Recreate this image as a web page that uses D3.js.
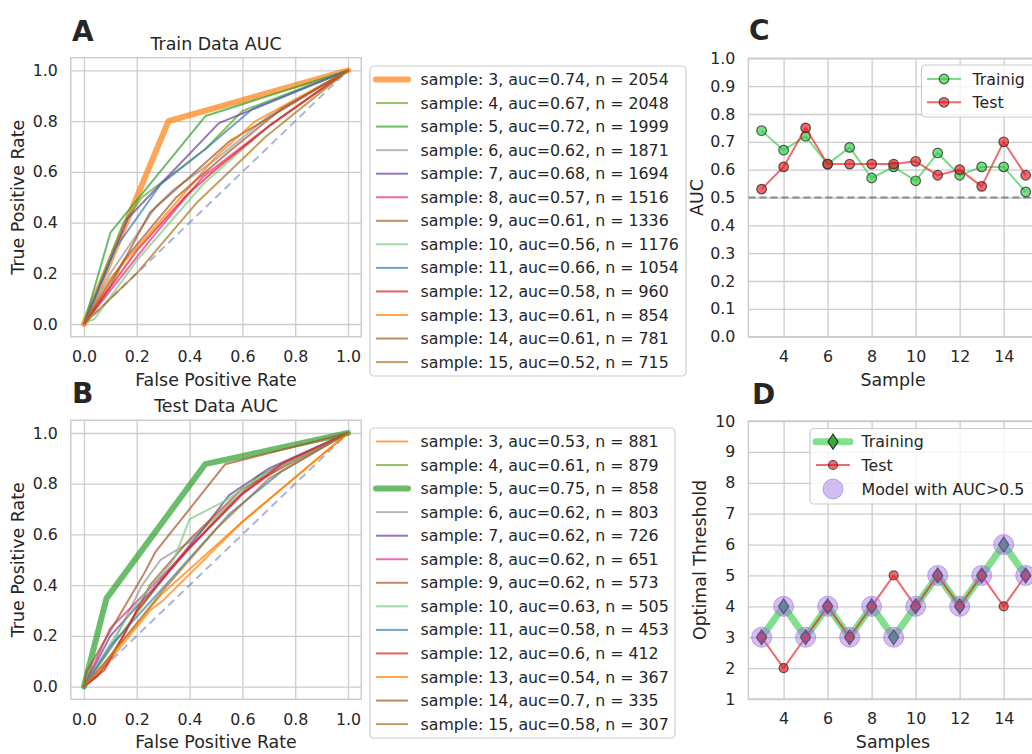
<!DOCTYPE html>
<html><head><meta charset="utf-8">
<script src="https://cdn.jsdelivr.net/npm/d3@7"></script>
<style>
body{margin:0;background:#fff}
text{font-family:"DejaVu Sans",sans-serif;fill:#262626}
</style>
</head><body>
<svg id="chart" width="1032" height="754"></svg>
<script>
// ---------------- DATA ----------------
const samples = [3,4,5,6,7,8,9,10,11,12,13,14,15];
const trainAUC = [0.74,0.67,0.72,0.62,0.68,0.57,0.61,0.56,0.66,0.58,0.61,0.61,0.52];
const trainN = [2054,2048,1999,1871,1694,1516,1336,1176,1054,960,854,781,715];
const testAUC = [0.53,0.61,0.75,0.62,0.62,0.62,0.62,0.63,0.58,0.6,0.54,0.7,0.58];
const testN = [881,879,858,803,726,651,573,505,453,412,367,335,307];
const sampleColors = ["#ff7f0e","#66a61e","#2ca02c","#999999","#6a3d9a","#e7298a","#a65628","#7fc97f","#377eb8","#e41a1c","#ff7f00","#a65628","#a6761d"];

// ROC curves (FPR, TPR) per sample, training set
const trainFPR = [
 [0,0.32,1],
 [0,0.15,0.22,0.46,0.6,1],
 [0,0.1,0.46,1],
 [0,0.1,0.27,0.34,0.5,0.7,1],
 [0,0.166,0.511,1],
 [0,0.25,0.45,0.7,1],
 [0,0.1,0.25,0.4,0.55,1],
 [0,0.04,0.2,0.45,0.7,1],
 [0,0.12,0.29,0.46,0.64,1],
 [0,0.2,0.39,0.5,0.7,1],
 [0,0.1,0.3,0.5,0.65,1],
 [0,0.15,0.35,0.55,0.75,1],
 [0,0.2,0.425,0.689,1]
];
const trainTPR = [
 [0,0.8,1],
 [0,0.4,0.5,0.69,0.84,1],
 [0,0.36,0.82,1],
 [0,0.2,0.46,0.53,0.65,0.82,1],
 [0,0.417,0.792,1],
 [0,0.33,0.58,0.78,1],
 [0,0.15,0.44,0.58,0.72,1],
 [0,0.02,0.25,0.55,0.78,1],
 [0,0.3,0.55,0.69,0.85,1],
 [0,0.29,0.51,0.61,0.78,1],
 [0,0.18,0.42,0.66,0.8,1],
 [0,0.25,0.5,0.68,0.85,1],
 [0,0.2,0.476,0.739,1]
];
// ROC curves, test set
const testFPR = [
 [0,0.08,0.25,0.3,0.6,1],
 [0,0.1,0.3,0.5,0.66,1],
 [0,0.0855,0.459,1],
 [0,0.1,0.22,0.29,0.4,0.55,0.7,1],
 [0,0.1,0.3,0.45,0.55,0.7,1],
 [0,0.1,0.3,0.45,0.6,0.75,1],
 [0,0.05,0.15,0.25,0.4,0.6,1],
 [0,0.1,0.2,0.34,0.4,0.54,0.67,1],
 [0,0.1,0.3,0.55,0.75,1],
 [0,0.078,0.2,0.4,0.6,0.75,1],
 [0,0.1,0.29,0.6,1],
 [0,0.01,0.1,0.23,0.27,0.535,1],
 [0,0.1,0.3,0.5,0.7,1]
];
const testTPR = [
 [0,0.08,0.3,0.34,0.65,1],
 [0,0.15,0.43,0.66,0.83,1],
 [0,0.348,0.877,1],
 [0,0.15,0.4,0.5,0.57,0.72,0.85,1],
 [0,0.2,0.43,0.62,0.755,0.86,1],
 [0,0.23,0.44,0.6,0.76,0.87,1],
 [0,0.04,0.2,0.4,0.58,0.78,1],
 [0,0.17,0.33,0.5,0.66,0.735,0.83,1],
 [0,0.16,0.39,0.68,0.85,1],
 [0,0.066,0.3,0.55,0.76,0.88,1],
 [0,0.12,0.36,0.65,1],
 [0,0.06,0.22,0.45,0.53,0.877,1],
 [0,0.12,0.38,0.62,0.82,1]
];
const trainThreshold = [3,4,3,4,3,4,3,4,5,4,5,6,5];
const testThreshold = [3,2,3,4,3,4,5,4,5,4,5,4,5];
const rocTicks = [0,0.2,0.4,0.6,0.8,1.0];
const aucTicks = [0,0.1,0.2,0.3,0.4,0.5,0.6,0.7,0.8,0.9,1.0];
const sampleTicks = [4,6,8,10,12,14];
const thrTicks = [1,2,3,4,5,6,7,8,9,10];

// ---------------- DRAW ----------------
const svg = d3.select("#chart");
svg.append("rect").attr("width",1032).attr("height",754).attr("fill","#fff");
const FS = 15.8;
const LFS = 17.4;
const GRID = "#cccccc";

function makeAxes(left,right,top,bottom,xdom,ydom,xticks,yticks,xfmt,yfmt){
  const x = d3.scaleLinear().domain(xdom).range([left,right]);
  const y = d3.scaleLinear().domain(ydom).range([bottom,top]);
  const g = svg.append("g");
  const gx = g.append("g").attr("transform",`translate(0,${bottom})`)
    .call(d3.axisBottom(x).tickValues(xticks).tickFormat(xfmt).tickSize(-(bottom-top)).tickPadding(14));
  const gy = g.append("g").attr("transform",`translate(${left},0)`)
    .call(d3.axisLeft(y).tickValues(yticks).tickFormat(yfmt).tickSize(-(right-left)).tickPadding(13));
  [gx,gy].forEach(a=>{
    a.select(".domain").remove();
    a.selectAll(".tick line").attr("stroke",GRID).attr("stroke-width",1.3);
    a.selectAll(".tick text").attr("font-size",FS).attr("fill","#262626").attr("font-family","DejaVu Sans");
  });
  g.append("rect").attr("x",left).attr("y",top).attr("width",right-left).attr("height",bottom-top)
    .attr("fill","none").attr("stroke",GRID).attr("stroke-width",1.5);
  const clipId = "clip"+Math.round(left)+"_"+Math.round(top);
  svg.append("clipPath").attr("id",clipId).append("rect")
    .attr("x",left).attr("y",top).attr("width",right-left).attr("height",bottom-top);
  const plot = svg.append("g").attr("clip-path",`url(#${clipId})`);
  return {x,y,g,plot};
}
function label(txt,x,y,opts={}){
  const t = svg.append("text").attr("x",x).attr("y",y).text(txt)
    .attr("font-size",opts.size||FS).attr("text-anchor",opts.anchor||"middle")
    .attr("dy",opts.dy||"0.35em");
  if(opts.bold) t.attr("font-weight","bold");
  if(opts.rotate) t.attr("transform",`rotate(-90,${x},${y})`);
  return t;
}
const f1 = d3.format(".1f");

function rocPanel(top,bottom,fprs,tprs,aucs,ns,title,letter,letterY,legTop,legBottom,legRight){
  const A = makeAxes(70.75,361.25,top,bottom,[-0.05,1.05],[-0.05,1.05],rocTicks,rocTicks,f1,f1);
  const best = d3.maxIndex(aucs);
  const line = d3.line().x(d=>A.x(d[0])).y(d=>A.y(d[1]));
  A.plot.append("path").attr("d",line([[0,0],[1,1]])).attr("fill","none")
    .attr("stroke","#4c72b0").attr("stroke-opacity",0.5).attr("stroke-width",2).attr("stroke-dasharray","8,5");
  samples.forEach((s,i)=>{
    const pts = fprs[i].map((f,j)=>[f,tprs[i][j]]);
    A.plot.append("path").attr("d",line(pts)).attr("fill","none")
      .attr("stroke",sampleColors[i]).attr("stroke-opacity",0.7)
      .attr("stroke-width",i===best?6:2).attr("stroke-linejoin","round").attr("stroke-linecap","round");
  });
  label(title,216,top-14,{size:LFS});
  label("False Positive Rate",216,bottom+43,{size:LFS});
  label("True Positive Rate",18,(top+bottom)/2,{rotate:true,size:LFS});
  label(letter,72,letterY,{size:28,bold:true,anchor:"start",dy:0});
  // legend
  svg.append("rect").attr("x",370).attr("y",legTop).attr("width",legRight-370).attr("height",legBottom-legTop)
    .attr("rx",4).attr("fill","#fff").attr("fill-opacity",0.8).attr("stroke",GRID).attr("stroke-width",1.2);
  samples.forEach((s,i)=>{
    const yy = legTop+13.5+i*23.55;
    svg.append("line").attr("x1",376).attr("x2",408).attr("y1",yy).attr("y2",yy)
      .attr("stroke",sampleColors[i]).attr("stroke-opacity",0.7).attr("stroke-width",i===best?6:2)
      .attr("stroke-linecap",i===best?"round":"butt");
    label(`sample: ${s}, auc=${aucs[i]}, n = ${ns[i]}`,420.5,yy,{anchor:"start"});
  });
}
rocPanel(57.7,336.7,trainFPR,trainTPR,trainAUC,trainN,"Train Data AUC","A",31,66,376,686);
rocPanel(420.3,699.3,testFPR,testTPR,testAUC,testN,"Test Data AUC","B",393,428,738,675);

// ---- Panel C ----
const fmtInt = d3.format("d");
const C = makeAxes(748.4,1038.9,58.3,336.7,[2.4,15.6],[0,1],sampleTicks,aucTicks,fmtInt,f1);
C.plot.append("line").attr("x1",C.x(2.4)).attr("x2",C.x(15.6)).attr("y1",C.y(0.5)).attr("y2",C.y(0.5))
  .attr("stroke","#808080").attr("stroke-width",2).attr("stroke-dasharray","7,4").attr("stroke-opacity",0.9);
const greenC = "#2ecc40", redC = "#e8191f";
function series(ax,vals,color,lw,marker,r){
  const ln = d3.line().x((d,i)=>ax.x(samples[i])).y(d=>ax.y(d));
  ax.plot.append("path").attr("d",ln(vals)).attr("fill","none").attr("stroke",color)
    .attr("stroke-opacity",0.65).attr("stroke-width",lw).attr("stroke-linejoin","round");
  vals.forEach((v,i)=>{
    if(marker==="circle"){
      ax.plot.append("circle").attr("cx",ax.x(samples[i])).attr("cy",ax.y(v)).attr("r",r)
        .attr("fill",color).attr("fill-opacity",0.65).attr("stroke","#333").attr("stroke-opacity",0.8).attr("stroke-width",1.2);
    } else {
      const cx=ax.x(samples[i]), cy=ax.y(v);
      ax.plot.append("path").attr("d",`M${cx},${cy-7.5}L${cx+5},${cy}L${cx},${cy+7.5}L${cx-5},${cy}Z`)
        .attr("fill","#2e8b57").attr("fill-opacity",0.85).attr("stroke","#333").attr("stroke-width",1.2);
    }
  });
}
series(C,trainAUC,greenC,2,"circle",4.8);
series(C,testAUC,redC,2,"circle",4.8);
label("Sample",893,380,{size:LFS});
label("AUC",697,197.5,{rotate:true,size:LFS});
label("C",749,30,{size:28,bold:true,anchor:"start",dy:0});
// legend C
svg.append("rect").attr("x",921.5).attr("y",65).attr("width",130).attr("height",52)
  .attr("rx",4).attr("fill","#fff").attr("fill-opacity",0.8).attr("stroke",GRID).attr("stroke-width",1.2);
[["Trainig",greenC],["Test",redC]].forEach((d,i)=>{
  const yy=79+i*23.3;
  svg.append("line").attr("x1",927).attr("x2",961).attr("y1",yy).attr("y2",yy).attr("stroke",d[1]).attr("stroke-opacity",0.65).attr("stroke-width",2);
  svg.append("circle").attr("cx",944).attr("cy",yy).attr("r",4.8).attr("fill",d[1]).attr("fill-opacity",0.65).attr("stroke","#333").attr("stroke-opacity",0.8).attr("stroke-width",1.2);
  label(d[0],972.5,yy,{anchor:"start"});
});

// ---- Panel D ----
const D = makeAxes(748.4,1038.9,421,699,[2.4,15.6],[1,10],sampleTicks,thrTicks,fmtInt,fmtInt);
series(D,trainThreshold,"#3ccf4e",7,"diamond");
series(D,testThreshold,redC,2,"circle",4.5);
trainThreshold.forEach((v,i)=>{
  D.plot.append("circle").attr("cx",D.x(samples[i])).attr("cy",D.y(v)).attr("r",10)
    .attr("fill","#9b6fe0").attr("fill-opacity",0.45).attr("stroke","#9b6fe0").attr("stroke-opacity",0.6);
});
label("Samples",893,741.5,{size:LFS});
label("Optimal Threshold",700,560,{rotate:true,size:LFS});
label("D",752,394,{size:28,bold:true,anchor:"start",dy:0});
// legend D
svg.append("rect").attr("x",810).attr("y",428.5).attr("width",240).attr("height",75.5)
  .attr("rx",4).attr("fill","#fff").attr("fill-opacity",0.8).attr("stroke",GRID).attr("stroke-width",1.2);
{
  let yy=441.7;
  svg.append("line").attr("x1",816).attr("x2",850).attr("y1",yy).attr("y2",yy).attr("stroke","#3ccf4e").attr("stroke-opacity",0.65).attr("stroke-width",7).attr("stroke-linecap","round");
  svg.append("path").attr("d",`M833,${yy-7.5}L838,${yy}L833,${yy+7.5}L828,${yy}Z`).attr("fill","#2ca02c").attr("fill-opacity",0.85).attr("stroke","#333").attr("stroke-width",1.2);
  label("Training",861.5,yy,{anchor:"start"});
  yy=465;
  svg.append("line").attr("x1",816).attr("x2",850).attr("y1",yy).attr("y2",yy).attr("stroke",redC).attr("stroke-opacity",0.65).attr("stroke-width",2);
  svg.append("circle").attr("cx",833).attr("cy",yy).attr("r",4.5).attr("fill",redC).attr("fill-opacity",0.65).attr("stroke","#333").attr("stroke-opacity",0.8).attr("stroke-width",1.2);
  label("Test",861.5,yy,{anchor:"start"});
  yy=489;
  svg.append("circle").attr("cx",833).attr("cy",yy).attr("r",10).attr("fill","#9b6fe0").attr("fill-opacity",0.45).attr("stroke","#9b6fe0").attr("stroke-opacity",0.6);
  label("Model with AUC>0.5",861.5,yy,{anchor:"start"});
}
</script>
</body></html>
